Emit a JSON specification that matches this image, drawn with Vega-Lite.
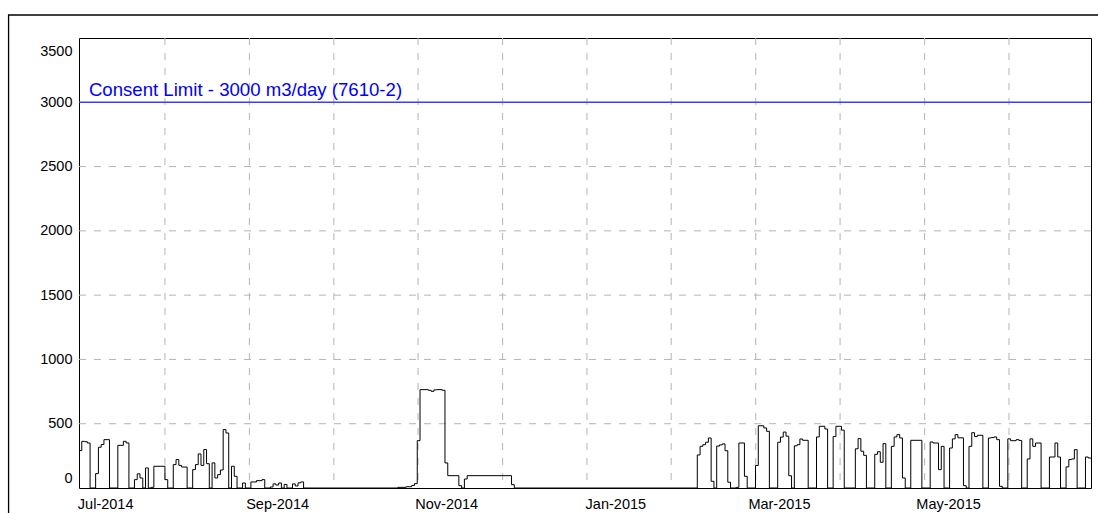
{
  "$schema": "https://vega.github.io/schema/vega-lite/v6.json",
  "width": 1012,
  "height": 450,
  "autosize": {"type": "none"},
  "padding": {"left": 79, "top": 38, "right": 7, "bottom": 25},
  "background": "white",
  "config": {
    "view": {"stroke": "black", "strokeWidth": 1},
    "font": "Liberation Sans, Arial, sans-serif"
  },
  "datasets": {
    "flow": [
      {"date": "2014-06-23T00:00:00", "v": 291},
      {"date": "2014-06-24T00:00:00", "v": 363},
      {"date": "2014-06-25T00:00:00", "v": 360},
      {"date": "2014-06-26T00:00:00", "v": 350},
      {"date": "2014-06-27T00:00:00", "v": 0},
      {"date": "2014-06-29T00:00:00", "v": 112},
      {"date": "2014-06-30T00:00:00", "v": 317},
      {"date": "2014-07-01T00:00:00", "v": 338},
      {"date": "2014-07-02T00:00:00", "v": 376},
      {"date": "2014-07-04T00:00:00", "v": 0},
      {"date": "2014-07-07T00:00:00", "v": 332},
      {"date": "2014-07-09T00:00:00", "v": 363},
      {"date": "2014-07-10T00:00:00", "v": 350},
      {"date": "2014-07-11T00:00:00", "v": 0},
      {"date": "2014-07-13T00:00:00", "v": 65},
      {"date": "2014-07-14T00:00:00", "v": 110},
      {"date": "2014-07-15T00:00:00", "v": 78},
      {"date": "2014-07-16T00:00:00", "v": 0},
      {"date": "2014-07-17T00:00:00", "v": 156},
      {"date": "2014-07-18T00:00:00", "v": 0},
      {"date": "2014-07-19T00:00:00", "v": 5},
      {"date": "2014-07-20T00:00:00", "v": 169},
      {"date": "2014-07-24T00:00:00", "v": 65},
      {"date": "2014-07-25T00:00:00", "v": 0},
      {"date": "2014-07-27T00:00:00", "v": 182},
      {"date": "2014-07-28T00:00:00", "v": 221},
      {"date": "2014-07-29T00:00:00", "v": 176},
      {"date": "2014-07-30T00:00:00", "v": 163},
      {"date": "2014-08-01T00:00:00", "v": 0},
      {"date": "2014-08-03T00:00:00", "v": 143},
      {"date": "2014-08-04T00:00:00", "v": 182},
      {"date": "2014-08-05T00:00:00", "v": 265},
      {"date": "2014-08-06T00:00:00", "v": 176},
      {"date": "2014-08-07T00:00:00", "v": 299},
      {"date": "2014-08-08T00:00:00", "v": 189},
      {"date": "2014-08-09T00:00:00", "v": 0},
      {"date": "2014-08-10T00:00:00", "v": 195},
      {"date": "2014-08-11T00:00:00", "v": 78},
      {"date": "2014-08-12T00:00:00", "v": 104},
      {"date": "2014-08-13T00:00:00", "v": 140},
      {"date": "2014-08-14T00:00:00", "v": 454},
      {"date": "2014-08-15T00:00:00", "v": 428},
      {"date": "2014-08-16T00:00:00", "v": 0},
      {"date": "2014-08-17T00:00:00", "v": 169},
      {"date": "2014-08-18T00:00:00", "v": 91},
      {"date": "2014-08-19T00:00:00", "v": 0},
      {"date": "2014-08-21T00:00:00", "v": 39},
      {"date": "2014-08-22T00:00:00", "v": 0},
      {"date": "2014-08-24T00:00:00", "v": 47},
      {"date": "2014-08-26T00:00:00", "v": 57},
      {"date": "2014-08-28T00:00:00", "v": 65},
      {"date": "2014-08-29T00:00:00", "v": 0},
      {"date": "2014-08-31T00:00:00", "v": 8},
      {"date": "2014-09-01T00:00:00", "v": 32},
      {"date": "2014-09-02T00:00:00", "v": 23},
      {"date": "2014-09-03T00:00:00", "v": 39},
      {"date": "2014-09-04T00:00:00", "v": 0},
      {"date": "2014-09-05T00:00:00", "v": 28},
      {"date": "2014-09-06T00:00:00", "v": 0},
      {"date": "2014-09-08T00:00:00", "v": 32},
      {"date": "2014-09-09T00:00:00", "v": 16},
      {"date": "2014-09-10T00:00:00", "v": 40},
      {"date": "2014-09-11T00:00:00", "v": 47},
      {"date": "2014-09-12T00:00:00", "v": 0},
      {"date": "2014-10-16T00:00:00", "v": 5},
      {"date": "2014-10-19T00:00:00", "v": 10},
      {"date": "2014-10-21T00:00:00", "v": 20},
      {"date": "2014-10-22T00:00:00", "v": 34},
      {"date": "2014-10-23T00:00:00", "v": 368},
      {"date": "2014-10-24T00:00:00", "v": 765},
      {"date": "2014-10-27T00:00:00", "v": 760},
      {"date": "2014-10-28T00:00:00", "v": 752},
      {"date": "2014-10-29T00:00:00", "v": 763},
      {"date": "2014-10-30T00:00:00", "v": 765},
      {"date": "2014-11-01T00:00:00", "v": 760},
      {"date": "2014-11-02T00:00:00", "v": 195},
      {"date": "2014-11-03T00:00:00", "v": 96},
      {"date": "2014-11-07T00:00:00", "v": 18},
      {"date": "2014-11-08T00:00:00", "v": 0},
      {"date": "2014-11-09T00:00:00", "v": 70},
      {"date": "2014-11-10T00:00:00", "v": 96},
      {"date": "2014-11-26T00:00:00", "v": 26},
      {"date": "2014-11-27T00:00:00", "v": 0},
      {"date": "2015-02-01T00:00:00", "v": 257},
      {"date": "2015-02-02T00:00:00", "v": 324},
      {"date": "2015-02-03T00:00:00", "v": 337},
      {"date": "2015-02-04T00:00:00", "v": 356},
      {"date": "2015-02-05T00:00:00", "v": 389},
      {"date": "2015-02-06T00:00:00", "v": 52},
      {"date": "2015-02-07T00:00:00", "v": 0},
      {"date": "2015-02-08T00:00:00", "v": 326},
      {"date": "2015-02-09T00:00:00", "v": 335},
      {"date": "2015-02-10T00:00:00", "v": 343},
      {"date": "2015-02-11T00:00:00", "v": 290},
      {"date": "2015-02-12T00:00:00", "v": 45},
      {"date": "2015-02-13T00:00:00", "v": 0},
      {"date": "2015-02-15T00:00:00", "v": 5},
      {"date": "2015-02-16T00:00:00", "v": 350},
      {"date": "2015-02-18T00:00:00", "v": 91},
      {"date": "2015-02-19T00:00:00", "v": 0},
      {"date": "2015-02-22T00:00:00", "v": 175},
      {"date": "2015-02-23T00:00:00", "v": 484},
      {"date": "2015-02-25T00:00:00", "v": 467},
      {"date": "2015-02-26T00:00:00", "v": 441},
      {"date": "2015-02-27T00:00:00", "v": 0},
      {"date": "2015-03-02T00:00:00", "v": 356},
      {"date": "2015-03-03T00:00:00", "v": 396},
      {"date": "2015-03-04T00:00:00", "v": 435},
      {"date": "2015-03-05T00:00:00", "v": 403},
      {"date": "2015-03-06T00:00:00", "v": 95},
      {"date": "2015-03-07T00:00:00", "v": 0},
      {"date": "2015-03-08T00:00:00", "v": 328},
      {"date": "2015-03-09T00:00:00", "v": 337},
      {"date": "2015-03-10T00:00:00", "v": 381},
      {"date": "2015-03-11T00:00:00", "v": 371},
      {"date": "2015-03-13T00:00:00", "v": 0},
      {"date": "2015-03-16T00:00:00", "v": 397},
      {"date": "2015-03-17T00:00:00", "v": 480},
      {"date": "2015-03-19T00:00:00", "v": 459},
      {"date": "2015-03-20T00:00:00", "v": 0},
      {"date": "2015-03-22T00:00:00", "v": 400},
      {"date": "2015-03-23T00:00:00", "v": 480},
      {"date": "2015-03-25T00:00:00", "v": 450},
      {"date": "2015-03-26T00:00:00", "v": 0},
      {"date": "2015-03-30T00:00:00", "v": 305},
      {"date": "2015-03-31T00:00:00", "v": 384},
      {"date": "2015-04-01T00:00:00", "v": 286},
      {"date": "2015-04-02T00:00:00", "v": 254},
      {"date": "2015-04-03T00:00:00", "v": 0},
      {"date": "2015-04-06T00:00:00", "v": 262},
      {"date": "2015-04-07T00:00:00", "v": 282},
      {"date": "2015-04-08T00:00:00", "v": 200},
      {"date": "2015-04-09T00:00:00", "v": 345},
      {"date": "2015-04-10T00:00:00", "v": 0},
      {"date": "2015-04-12T00:00:00", "v": 324},
      {"date": "2015-04-13T00:00:00", "v": 397},
      {"date": "2015-04-14T00:00:00", "v": 415},
      {"date": "2015-04-15T00:00:00", "v": 389},
      {"date": "2015-04-16T00:00:00", "v": 78},
      {"date": "2015-04-17T00:00:00", "v": 0},
      {"date": "2015-04-19T00:00:00", "v": 371},
      {"date": "2015-04-23T00:00:00", "v": 0},
      {"date": "2015-04-26T00:00:00", "v": 358},
      {"date": "2015-04-27T00:00:00", "v": 350},
      {"date": "2015-04-29T00:00:00", "v": 143},
      {"date": "2015-04-30T00:00:00", "v": 324},
      {"date": "2015-05-01T00:00:00", "v": 0},
      {"date": "2015-05-03T00:00:00", "v": 311},
      {"date": "2015-05-04T00:00:00", "v": 382},
      {"date": "2015-05-05T00:00:00", "v": 415},
      {"date": "2015-05-06T00:00:00", "v": 390},
      {"date": "2015-05-08T00:00:00", "v": 18},
      {"date": "2015-05-09T00:00:00", "v": 0},
      {"date": "2015-05-10T00:00:00", "v": 324},
      {"date": "2015-05-11T00:00:00", "v": 430},
      {"date": "2015-05-12T00:00:00", "v": 400},
      {"date": "2015-05-13T00:00:00", "v": 410},
      {"date": "2015-05-15T00:00:00", "v": 0},
      {"date": "2015-05-17T00:00:00", "v": 389},
      {"date": "2015-05-18T00:00:00", "v": 392},
      {"date": "2015-05-19T00:00:00", "v": 397},
      {"date": "2015-05-20T00:00:00", "v": 376},
      {"date": "2015-05-21T00:00:00", "v": 13},
      {"date": "2015-05-22T00:00:00", "v": 0},
      {"date": "2015-05-24T00:00:00", "v": 382},
      {"date": "2015-05-25T00:00:00", "v": 368},
      {"date": "2015-05-27T00:00:00", "v": 376},
      {"date": "2015-05-28T00:00:00", "v": 370},
      {"date": "2015-05-29T00:00:00", "v": 0},
      {"date": "2015-05-31T00:00:00", "v": 226},
      {"date": "2015-06-01T00:00:00", "v": 382},
      {"date": "2015-06-02T00:00:00", "v": 324},
      {"date": "2015-06-03T00:00:00", "v": 350},
      {"date": "2015-06-05T00:00:00", "v": 0},
      {"date": "2015-06-08T00:00:00", "v": 241},
      {"date": "2015-06-10T00:00:00", "v": 350},
      {"date": "2015-06-11T00:00:00", "v": 241},
      {"date": "2015-06-12T00:00:00", "v": 0},
      {"date": "2015-06-14T00:00:00", "v": 164},
      {"date": "2015-06-15T00:00:00", "v": 221},
      {"date": "2015-06-16T00:00:00", "v": 226},
      {"date": "2015-06-17T00:00:00", "v": 298},
      {"date": "2015-06-18T00:00:00", "v": 0},
      {"date": "2015-06-21T00:00:00", "v": 241},
      {"date": "2015-06-22T00:00:00", "v": 233},
      {"date": "2015-06-23T00:00:00", "v": 233}
    ],
    "vgrid": [
      {"d": "2014-07-24T00:00:00"},
      {"d": "2014-08-23T11:00:00"},
      {"d": "2014-09-22T22:00:00"},
      {"d": "2014-10-23T07:00:00"},
      {"d": "2014-11-22T19:00:00"},
      {"d": "2014-12-23T05:00:00"},
      {"d": "2015-01-22T14:00:00"},
      {"d": "2015-02-22T02:00:00"},
      {"d": "2015-03-24T12:00:00"},
      {"d": "2015-04-24T00:00:00"},
      {"d": "2015-05-24T10:00:00"}
    ],
    "hgrid": [
      {"h": 500}, {"h": 1000}, {"h": 1500}, {"h": 2000}, {"h": 2500}
    ],
    "frame": [
      {"x1": "2014-05-28T14:24:00", "x2": "2015-07-05T00:00:00", "y1": 3679, "y2": -1000}
    ],
    "limit": [
      {"lim": 3000, "at": "2014-06-26T14:00:00", "label": "Consent Limit - 3000 m3/day (7610-2)"}
    ]
  },
  "layer": [
    {
      "data": {"name": "hgrid"},
      "mark": {"type": "rule", "color": "#b4b4b4", "strokeWidth": 1, "strokeDash": [7, 8]},
      "encoding": {
        "y": {
          "field": "h",
          "type": "quantitative",
          "scale": {"domain": [0, 3500], "nice": false, "zero": false},
          "axis": {
            "title": null,
            "values": [0, 500, 1000, 1500, 2000, 2500, 3000, 3500],
            "format": "d",
            "grid": false,
            "ticks": false,
            "domain": false,
            "labelPadding": 7,
            "labelFontSize": 14.5,
            "labelColor": "#000000",
            "labelFlush": false,
            "labelOffset": {"condition": [{"test": "datum.value == 3500", "value": 13}, {"test": "datum.value == 0", "value": -10}], "value": 0}
          }
        }
      }
    },
    {
      "data": {"name": "vgrid"},
      "mark": {"type": "rule", "color": "#b4b4b4", "strokeWidth": 1, "strokeDash": [7, 8]},
      "encoding": {
        "x": {
          "field": "d",
          "type": "temporal",
          "scale": {"domain": [{"year": 2014, "month": 6, "date": 23}, {"year": 2015, "month": 6, "date": 23}], "nice": false},
          "axis": {
            "title": null,
            "values": [
              {"year": 2014, "month": 7, "date": 1},
              {"year": 2014, "month": 9, "date": 1},
              {"year": 2014, "month": 11, "date": 1},
              {"year": 2015, "month": 1, "date": 1},
              {"year": 2015, "month": 3, "date": 1},
              {"year": 2015, "month": 5, "date": 1}
            ],
            "format": "%b-%Y",
            "grid": false,
            "ticks": false,
            "domain": false,
            "labelPadding": 9,
            "labelFontSize": 14.5,
            "labelColor": "#000000",
            "labelFlush": false,
            "labelOverlap": false,
            "labelOffset": 4
          }
        }
      }
    },
    {
      "data": {"name": "flow"},
      "mark": {"type": "line", "interpolate": "step-after", "color": "#000000", "strokeWidth": 1, "clip": true},
      "encoding": {
        "x": {"field": "date", "type": "temporal", "axis": {"title": null}},
        "y": {"field": "v", "type": "quantitative", "axis": {"title": null}}
      }
    },
    {
      "data": {"name": "limit"},
      "mark": {"type": "rule", "color": "#3c3cff", "strokeWidth": 1.5},
      "encoding": {"y": {"field": "lim", "type": "quantitative", "axis": {"title": null}}}
    },
    {
      "data": {"name": "limit"},
      "mark": {"type": "text", "color": "#0000ff", "fontSize": 18.6, "align": "left", "baseline": "alphabetic", "dy": -6},
      "encoding": {
        "x": {"field": "at", "type": "temporal", "axis": {"title": null}},
        "y": {"field": "lim", "type": "quantitative", "axis": {"title": null}},
        "text": {"field": "label"}
      }
    },
    {
      "data": {"name": "frame"},
      "mark": {"type": "rect", "fillOpacity": 0, "stroke": "#000000", "strokeWidth": 1.3, "clip": false},
      "encoding": {
        "x": {"field": "x1", "type": "temporal", "axis": {"title": null}},
        "x2": {"field": "x2"},
        "y": {"field": "y1", "type": "quantitative", "axis": {"title": null}},
        "y2": {"field": "y2"}
      }
    }
  ]
}
